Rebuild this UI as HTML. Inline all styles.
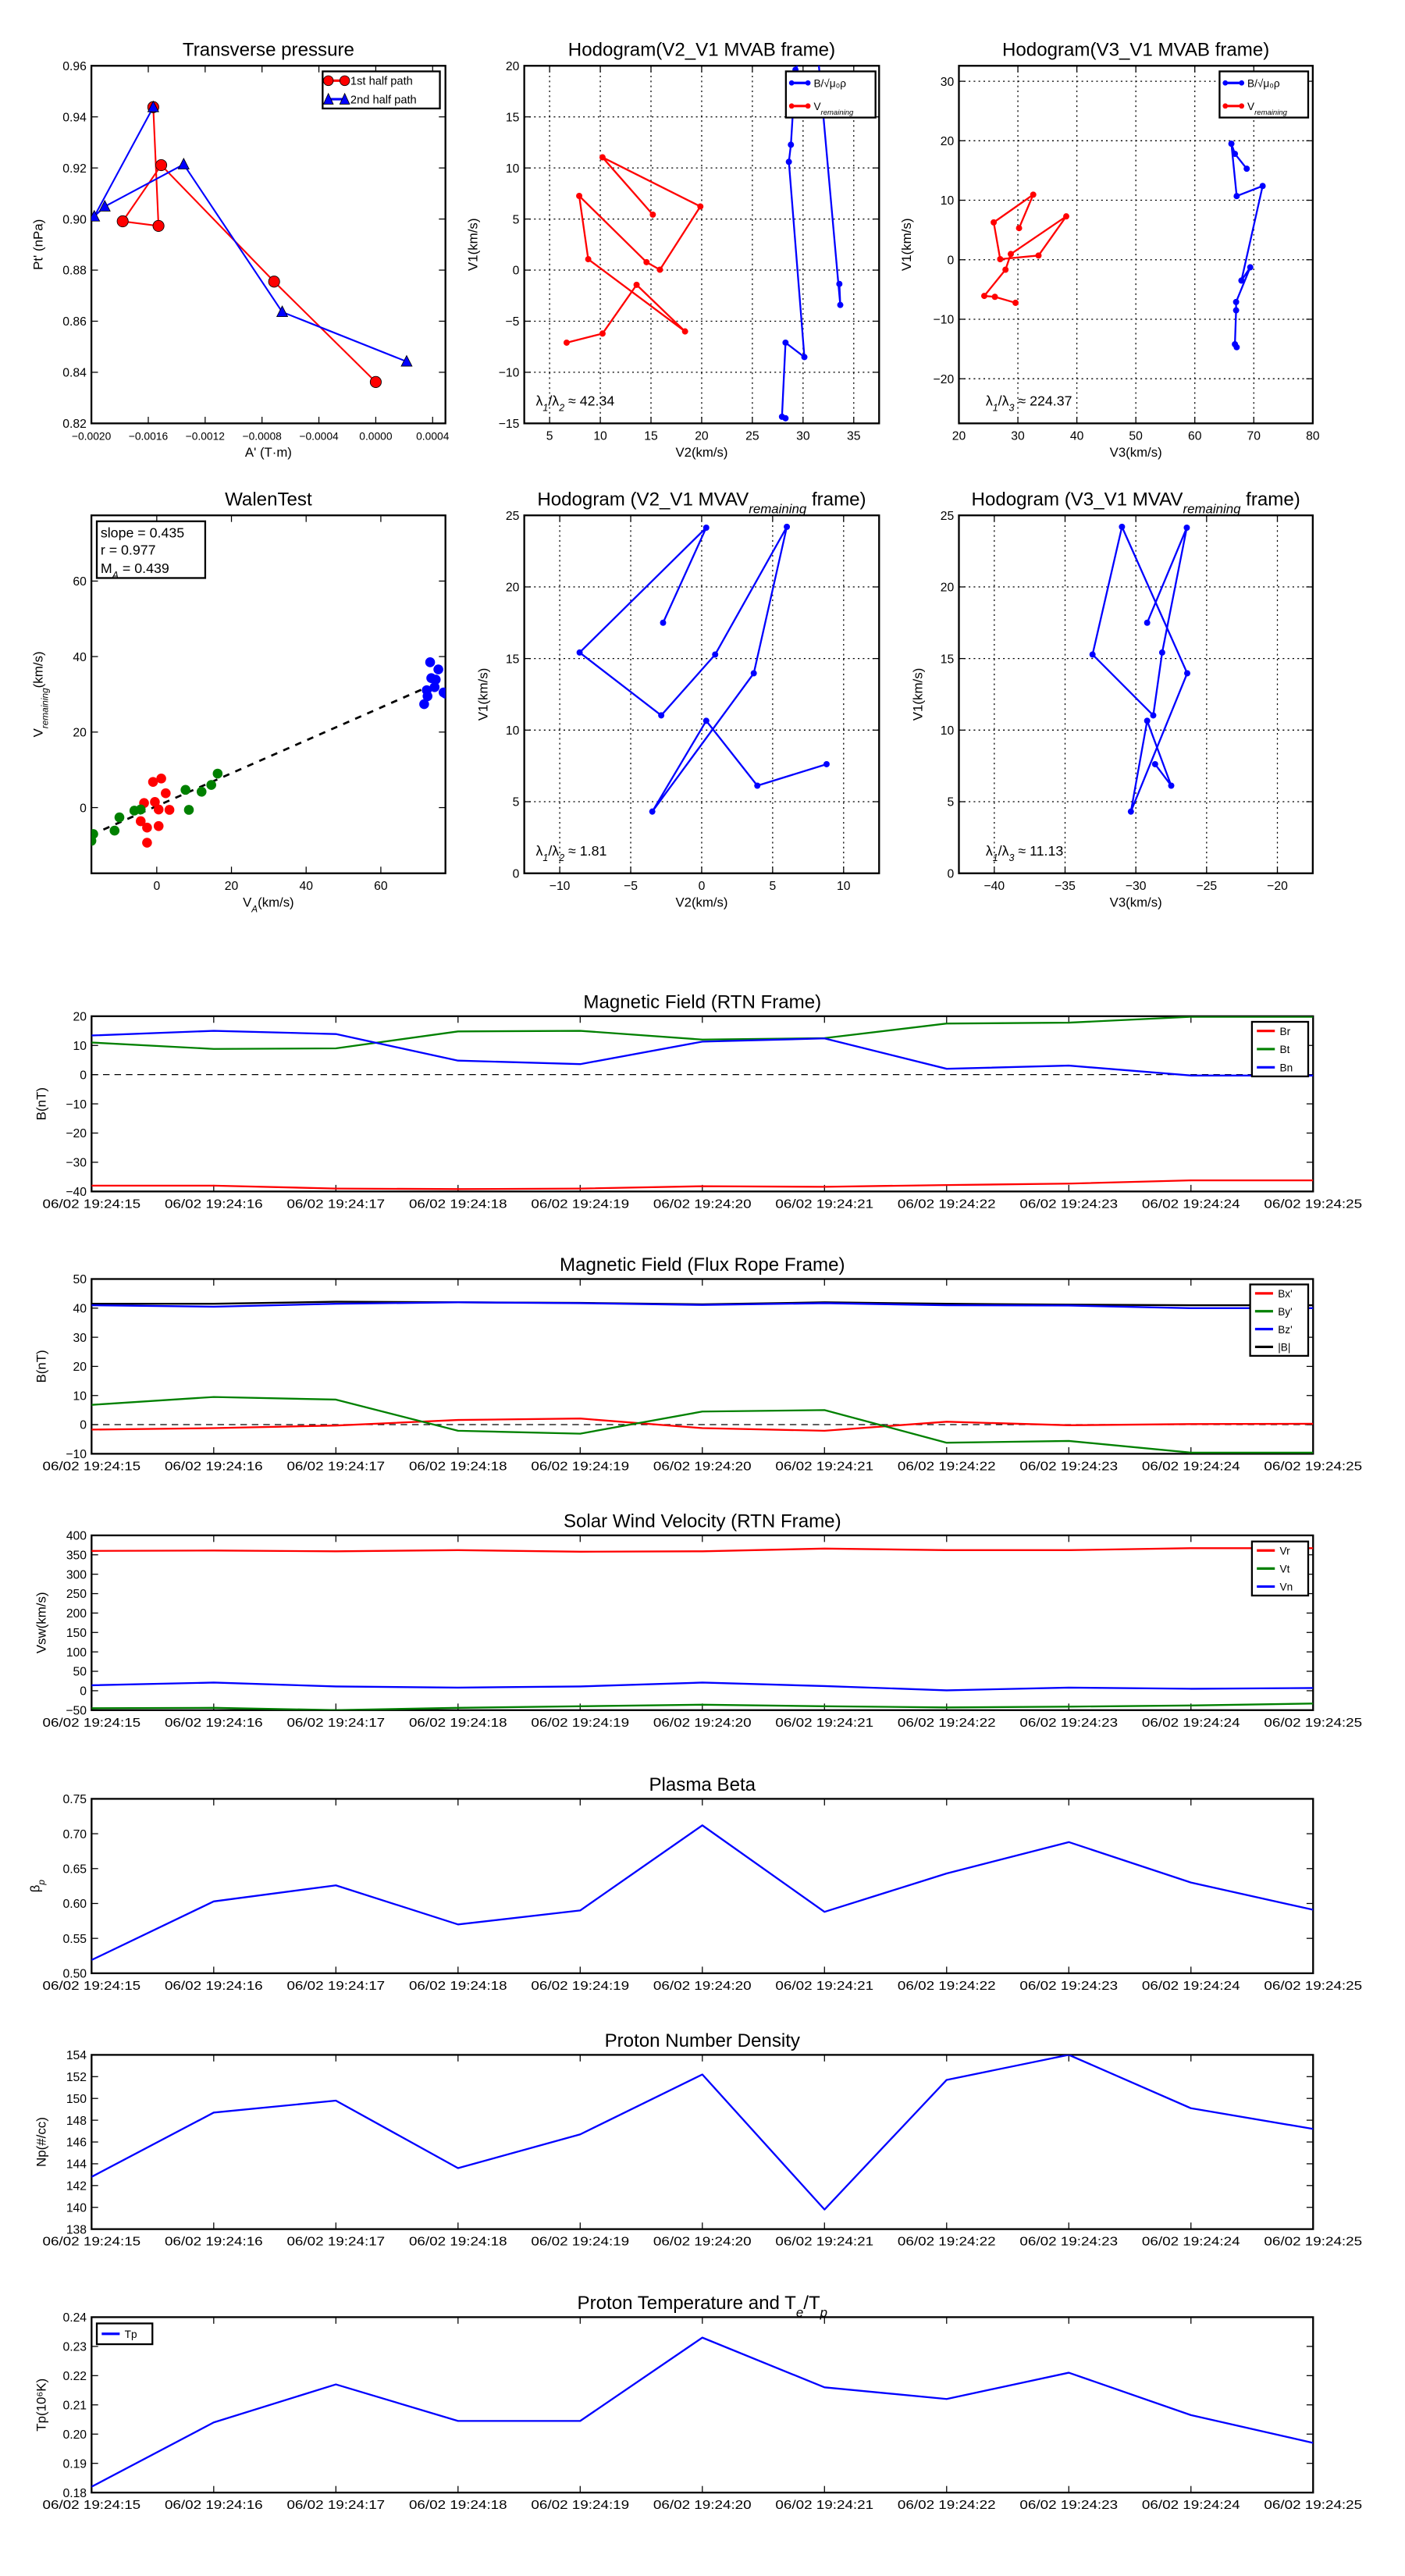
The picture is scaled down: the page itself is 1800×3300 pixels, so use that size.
<!DOCTYPE html>
<html><head><meta charset="utf-8"><title>Flux rope analysis</title>
<style>html,body{margin:0;padding:0;background:#fff}svg{display:block}text{font-family:"Liberation Sans",sans-serif}</style>
</head><body>
<svg id="fig" xmlns="http://www.w3.org/2000/svg" width="1800" height="3300" viewBox="0 0 859.2 1562.5" preserveAspectRatio="none"><rect x="0" y="0" width="900" height="1600" fill="#fff"/></svg>
<script>
// ---------- data ----------
const tpRed = [[-0.001565,0.9438],[-0.001528,0.8973],[-0.00178,0.8991],[-0.001509,0.9211],[-0.000715,0.8755],[0.0,0.8362]];
const tpBlue = [[-0.001565,0.9438],[-0.00198,0.901],[-0.001906,0.9049],[-0.001351,0.9214],[-0.000658,0.8636],[0.000217,0.8442]];
const h1Red = [[15.18,5.43],[10.22,11.04],[19.87,6.23],[15.88,0.04],[14.56,0.78],[7.92,7.26],[8.81,1.07],[18.36,-6.0],[13.58,-1.44],[10.22,-6.21],[6.68,-7.1]];
const h1Blue = [[28.27,-14.5],[27.92,-14.35],[28.27,-7.1],[30.13,-8.51],[28.6,10.6],[28.8,12.27],[29.25,19.6],[31.2,24],[33.67,-3.41],[33.58,-1.35]];
const h2Red = [[30.2,5.32],[32.6,10.94],[25.9,6.28],[27.0,0.1],[33.5,0.71],[38.2,7.29],[28.8,0.96],[27.9,-1.67],[24.3,-6.08],[26.1,-6.23],[29.6,-7.24]];
const h2Blue = [[68.8,15.3],[66.8,17.8],[66.2,19.5],[67.1,10.7],[71.5,12.4],[67.9,-3.5],[69.4,-1.27],[67.0,-7.1],[67.0,-8.5],[66.8,-14.2],[67.1,-14.7]];
const walenRed = [[-1,6.8],[1.2,7.7],[2.4,3.8],[-3.4,1.2],[-0.5,1.5],[0.5,-0.5],[3.4,-0.6],[-4.3,-3.6],[-2.6,-5.3],[0.5,-4.9],[-2.6,-9.3]];
const walenGreen = [[16.3,9.0],[14.6,6.0],[12,4.2],[7.7,4.7],[8.6,-0.6],[-4.3,-0.5],[-6,-0.8],[-10,-2.6],[-11.3,-6.1],[-17,-7],[-17.5,-8.8]];
const walenBlue = [[73.2,38.5],[75.4,36.6],[73.5,34.3],[74.7,33.9],[74.4,31.9],[72.3,31.1],[72.5,29.5],[71.6,27.4],[76.8,30.5],[77.3,30.2]];
const walenSlope = 0.435, walenIntercept = 0.4;
const mvV2 = [-2.72,0.32,-8.6,-2.85,0.95,6.0,3.67,-3.48,0.32,3.92,8.8];
const mvV3 = [-29.2,-26.4,-28.14,-28.77,-33.06,-30.98,-26.37,-30.35,-29.2,-27.5,-28.64];
const mvV1 = [17.5,24.14,15.42,11.03,15.28,24.2,13.97,4.31,10.65,6.12,7.62];
const timeLabels = ["06/02 19:24:15","06/02 19:24:16","06/02 19:24:17","06/02 19:24:18","06/02 19:24:19","06/02 19:24:20","06/02 19:24:21","06/02 19:24:22","06/02 19:24:23","06/02 19:24:24","06/02 19:24:25"];
const Br = [-38,-38,-39,-39.2,-39,-38.2,-38.4,-37.8,-37.3,-36.2,-36.2];
const Bt = [11,8.8,9,14.8,15,12,12.5,17.5,17.8,19.8,19.8];
const Bn = [13.4,15,13.9,4.8,3.6,11.3,12.4,2,3.1,-0.3,-0.3];
const Bxp = [-1.7,-1.2,-0.3,1.6,2.1,-1.2,-2.1,1,-0.2,0.2,0.3];
const Byp = [6.8,9.5,8.6,-2.1,-3.1,4.5,5,-6.2,-5.6,-9.6,-9.6];
const Bzp = [41,40.5,41.5,42,41.7,41.1,41.7,41,40.9,40,40];
const Bmag = [41.5,41.5,42.2,42,41.8,41.3,42,41.5,41.2,41,41];
const Vr = [360,361,359,362,358,359,366,362,362,367,367];
const Vt = [-45,-44,-50,-44,-40,-36,-40,-43,-41,-38,-33];
const Vn = [14,21,11,8,11,21,12,1,8,5,7];
const beta = [0.519,0.603,0.626,0.570,0.590,0.712,0.588,0.643,0.688,0.630,0.591];
const Np = [142.8,148.7,149.8,143.6,146.7,152.2,139.8,151.7,154,149.1,147.2];
const Tp = [0.182,0.204,0.217,0.2045,0.2045,0.233,0.216,0.212,0.221,0.2065,0.197];

// ---------- helpers ----------
const NS='http://www.w3.org/2000/svg';
const svg=document.getElementById('fig');
let clipId=0;
function mk(tag,attrs,parent){const e=document.createElementNS(NS,tag);for(const k in attrs)e.setAttribute(k,attrs[k]);(parent||svg).appendChild(e);return e;}
function label(parent,parts,x,y,size,anchor,rot){
  const t=mk('text',{x:x,y:y,'font-size':size,'text-anchor':anchor||'middle'},parent);
  if(rot)t.setAttribute('transform','rotate('+rot+' '+x+' '+y+')');
  parts.forEach(p=>{
    if(typeof p==='string'){t.appendChild(document.createTextNode(p));}
    else{const s=mk('tspan',{'font-size':size*0.7,'font-style':'italic','baseline-shift':'sub'},t);s.textContent=p.sub;const r=mk('tspan',{'baseline-shift':'0'},t);r.textContent='\u200b';}
  });
  return t;
}
function panel(c){
  const g=mk('g',{});
  
  
  const sx=v=>c.x0+(v-c.xmin)/(c.xmax-c.xmin)*(c.x1-c.x0);
  const sy=v=>c.y1-(v-c.ymin)/(c.ymax-c.ymin)*(c.y1-c.y0);
  const id='clip'+(clipId++);
  const cp=mk('clipPath',{id:id},g);mk('rect',{x:c.x0,y:c.y0,width:c.x1-c.x0,height:c.y1-c.y0},cp);
  const xt=c.xticks, yt=c.yticks;
  xt.forEach((v,i)=>{
    const X=sx(v);
    if(c.grid){const gl=mk('line',{x1:X,x2:X,y1:c.y0,y2:c.y1,stroke:'#000','stroke-width':0.6,'stroke-dasharray':'1,2'},g);}
    mk('line',{x1:X,x2:X,y1:c.y1,y2:c.y1-4,stroke:'#000','stroke-width':0.6},g);
    mk('line',{x1:X,x2:X,y1:c.y0,y2:c.y0+4,stroke:'#000','stroke-width':0.6},g);
    const lab=c.xlabels?c.xlabels[i]:c.xfmt(v);
    const t=mk('text',{x:X,y:c.y1+10,'font-size':c.xfs||7.5,'text-anchor':'middle'},g);
    if(c.xlen){t.setAttribute('textLength',c.xlen);t.setAttribute('lengthAdjust','spacingAndGlyphs');}
    t.textContent=lab;
    
    
  });
  yt.forEach(v=>{
    const Y=sy(v);
    if(c.grid){const gl=mk('line',{x1:c.x0,x2:c.x1,y1:Y,y2:Y,stroke:'#000','stroke-width':0.6,'stroke-dasharray':'1,2'},g);}
    mk('line',{x1:c.x0,x2:c.x0+4,y1:Y,y2:Y,stroke:'#000','stroke-width':0.6},g);
    mk('line',{x1:c.x1,x2:c.x1-4,y1:Y,y2:Y,stroke:'#000','stroke-width':0.6},g);
    const t=mk('text',{x:c.x0-3,y:Y+2.7,'font-size':7.5,'text-anchor':'end'},g);
    t.textContent=c.yfmt(v);
    
    
  });
  const fr=mk('rect',{x:c.x0,y:c.y0,width:c.x1-c.x0,height:c.y1-c.y0,fill:'none',stroke:'#000','stroke-width':1.1},g);
  
  
  const ti=label(g,c.title,(c.x0+c.x1)/2,c.y0-c.titleOff,11.5,'middle');
  
  
  if(c.xtitle){const xl=label(g,c.xtitle,(c.x0+c.x1)/2,c.xtitleY,8,'middle');}
  const yl=label(g,c.ytitle,c.ytitleX,(c.y0+c.y1)/2,8,'middle',-90);
  
  
  const dg=mk('g',{'clip-path':'url(#'+id+')'},g);
  return {g:g,dg:dg,sx:sx,sy:sy,c:c};
}
function polyline(p,pts,color,w){
  const e=mk('polyline',{points:pts.map(q=>p.sx(q[0]).toFixed(2)+','+p.sy(q[1]).toFixed(2)).join(' '),fill:'none',stroke:color,'stroke-width':w||1,'stroke-linejoin':'round'},p.dg);
  return e;
}
function dots(p,pts,color,r,nm){
  pts.forEach(q=>{
    const d=mk('circle',{cx:p.sx(q[0]),cy:p.sy(q[1]),r:r,fill:color,stroke:'none'},p.dg);
    
    
  });
}
function legend(x,y,w,h,entries,nm,fs){
  const g=mk('g',{});
  
  
  mk('rect',{x:x,y:y,width:w,height:h,fill:'#fff',stroke:'#000','stroke-width':1.1},g);
  const step=h/entries.length;
  entries.forEach((e,i)=>{
    const cy=y+step*(i+0.5);
    const it=mk('g',{},g);
    
    
    mk('line',{x1:x+3,x2:x+14,y1:cy,y2:cy,stroke:e.color,'stroke-width':1.5},it);
    if(e.marker==='o'){mk('circle',{cx:x+3.5,cy:cy,r:3,fill:e.color,stroke:'#000','stroke-width':0.4},it);mk('circle',{cx:x+13.5,cy:cy,r:3,fill:e.color,stroke:'#000','stroke-width':0.4},it);}
    if(e.marker==='^'){[x+3.5,x+13.5].forEach(mx=>mk('polygon',{points:(mx-3)+','+(cy+3)+' '+(mx+3)+','+(cy+3)+' '+mx+','+(cy-3.5),fill:e.color,stroke:'#000','stroke-width':0.4},it));}
    if(e.marker==='.'){mk('circle',{cx:x+3.5,cy:cy,r:1.6,fill:e.color},it);mk('circle',{cx:x+13.5,cy:cy,r:1.6,fill:e.color},it);}
    label(it,e.label,x+17,cy+2.5,fs||7,'start');
  });
}
const f=d=>v=>v.toFixed(d);
const fint=v=>(v<0?'\u2212':'')+Math.abs(v).toFixed(0);

// ---------- Transverse pressure ----------
const pA=panel({name:'transverse-pressure-chart',x0:55.9,x1:272.4,y0:39.9,y1:256.8,xmin:-0.002,xmax:0.00049,ymin:0.82,ymax:0.96,
  xticks:[-0.002,-0.0016,-0.0012,-0.0008,-0.0004,0,0.0004],yticks:[0.82,0.84,0.86,0.88,0.9,0.92,0.94,0.96],
  xfmt:v=>(v<-1e-9?'\u2212':'')+Math.abs(v).toFixed(4),xfs:6.6,yfmt:f(2),title:['Transverse pressure'],titleOff:6,
  xtitle:["A' (T\u00b7m)"],xtitleY:277,ytitle:["Pt' (nPa)"],ytitleX:26});
polyline(pA,tpRed,'#f00',1);
polyline(pA,tpBlue,'#00f',1);
tpRed.forEach(q=>{const d=mk('circle',{cx:pA.sx(q[0]),cy:pA.sy(q[1]),r:3.4,fill:'#f00',stroke:'#000','stroke-width':0.4},pA.dg);});
tpBlue.forEach(q=>{const X=pA.sx(q[0]),Y=pA.sy(q[1]);const d=mk('polygon',{points:(X-3.3)+','+(Y+2.8)+' '+(X+3.3)+','+(Y+2.8)+' '+X+','+(Y-3.6),fill:'#00f',stroke:'#000','stroke-width':0.4},pA.dg);});
legend(197.3,43.3,71.7,22.5,[{label:['1st half path'],color:'#f00',marker:'o'},{label:['2nd half path'],color:'#00f',marker:'^'}],'pressure-legend',7);

// ---------- Hodogram V2_V1 MVAB ----------
const pB=panel({name:'hodogram-v2-v1-mvab',x0:320.6,x1:537.6,y0:39.9,y1:256.8,xmin:2.5,xmax:37.5,ymin:-15,ymax:20,grid:true,
  xticks:[5,10,15,20,25,30,35],yticks:[-15,-10,-5,0,5,10,15,20],xfmt:fint,yfmt:fint,title:['Hodogram(V2_V1 MVAB frame)'],titleOff:6,
  xtitle:['V2(km/s)'],xtitleY:277,ytitle:['V1(km/s)'],ytitleX:292});
polyline(pB,h1Red,'#f00',1.1);dots(pB,h1Red,'#f00',1.9,'v-remaining-point');
polyline(pB,h1Blue,'#00f',1.1);dots(pB,h1Blue,'#00f',1.9,'b-alfven-point');
legend(480.6,43.3,54.8,28,[{label:['B/\u221a\u03bc\u2080\u03c1'],color:'#00f',marker:'.'},{label:['V',{sub:'remaining'}],color:'#f00',marker:'.'}],'hodogram-mvab-legend',6.5);
label(svg,['\u03bb',{sub:'1'},'/\u03bb',{sub:'2'},' \u2248 42.34'],327.7,246,8.5,'start');

// ---------- Hodogram V3_V1 MVAB ----------
const pC=panel({name:'hodogram-v3-v1-mvab',x0:586.4,x1:802.8,y0:39.9,y1:256.8,xmin:20,xmax:80,ymin:-27.5,ymax:32.6,grid:true,
  xticks:[20,30,40,50,60,70,80],yticks:[-20,-10,0,10,20,30],xfmt:fint,yfmt:fint,title:['Hodogram(V3_V1 MVAB frame)'],titleOff:6,
  xtitle:['V3(km/s)'],xtitleY:277,ytitle:['V1(km/s)'],ytitleX:557});
polyline(pC,h2Red,'#f00',1.1);dots(pC,h2Red,'#f00',1.9,'v-remaining-point');
polyline(pC,h2Blue,'#00f',1.1);dots(pC,h2Blue,'#00f',1.9,'b-alfven-point');
legend(745.8,43.3,54.2,28,[{label:['B/\u221a\u03bc\u2080\u03c1'],color:'#00f',marker:'.'},{label:['V',{sub:'remaining'}],color:'#f00',marker:'.'}],'hodogram-mvab-legend-2',6.5);
label(svg,['\u03bb',{sub:'1'},'/\u03bb',{sub:'3'},' \u2248 224.37'],602.8,246,8.5,'start');

// ---------- Walen test ----------
const pD=panel({name:'walen-test-chart',x0:55.9,x1:272.4,y0:312.6,y1:529.7,xmin:-17.5,xmax:77.3,ymin:-17.4,ymax:77.4,
  xticks:[0,20,40,60],yticks:[0,20,40,60],xfmt:fint,yfmt:fint,title:['WalenTest'],titleOff:6,
  xtitle:['V',{sub:'A'},'(km/s)'],xtitleY:550,ytitle:['V',{sub:'remaining'},'(km/s)'],ytitleX:26});
const fitL=mk('line',{x1:pD.sx(-17.5),y1:pD.sy(walenSlope*-17.5+walenIntercept),x2:pD.sx(72),y2:pD.sy(walenSlope*72+walenIntercept),stroke:'#000','stroke-width':1.3,'stroke-dasharray':'4,4'},pD.dg);


dots(pD,walenRed,'#f00',3,'walen-point-red');
dots(pD,walenGreen,'#008000',3,'walen-point-green');
dots(pD,walenBlue,'#00f',3,'walen-point-blue');
const wb=mk('g',{});


mk('rect',{x:59.2,y:316.2,width:66.3,height:34.4,fill:'#fff',stroke:'#000','stroke-width':1.1},wb);
label(wb,['slope = 0.435'],61.5,326,8.5,'start');
label(wb,['r = 0.977'],61.5,336.5,8.5,'start');
label(wb,['M',{sub:'A'},' = 0.439'],61.5,347.5,8.5,'start');

// ---------- Hodogram MVAV ----------
const mvE=mvV2.map((v,i)=>[v,mvV1[i]]);
const mvF=mvV3.map((v,i)=>[v,mvV1[i]]);
const pE=panel({name:'hodogram-v2-v1-mvav',x0:320.6,x1:537.6,y0:312.6,y1:529.7,xmin:-12.5,xmax:12.5,ymin:0,ymax:25,grid:true,
  xticks:[-10,-5,0,5,10],yticks:[0,5,10,15,20,25],xfmt:fint,yfmt:fint,title:['Hodogram (V2_V1 MVAV',{sub:'remaining'},' frame)'],titleOff:6,
  xtitle:['V2(km/s)'],xtitleY:550,ytitle:['V1(km/s)'],ytitleX:298});
polyline(pE,mvE,'#00f',1.1);dots(pE,mvE,'#00f',1.9,'hodogram-point');
label(svg,['\u03bb',{sub:'1'},'/\u03bb',{sub:'2'},' \u2248 1.81'],327.7,519,8.5,'start');
const pF=panel({name:'hodogram-v3-v1-mvav',x0:586.4,x1:802.8,y0:312.6,y1:529.7,xmin:-42.5,xmax:-17.5,ymin:0,ymax:25,grid:true,
  xticks:[-40,-35,-30,-25,-20],yticks:[0,5,10,15,20,25],xfmt:fint,yfmt:fint,title:['Hodogram (V3_V1 MVAV',{sub:'remaining'},' frame)'],titleOff:6,
  xtitle:['V3(km/s)'],xtitleY:550,ytitle:['V1(km/s)'],ytitleX:564});
polyline(pF,mvF,'#00f',1.1);dots(pF,mvF,'#00f',1.9,'hodogram-point');
label(svg,['\u03bb',{sub:'1'},'/\u03bb',{sub:'3'},' \u2248 11.13'],602.8,519,8.5,'start');

// ---------- time series ----------
const idx=timeLabels.map((_,i)=>i);
function ts(name,y0,y1,ymin,ymax,yticks,yfmt,title,ytitle,ytx){
  return panel({name:name,x0:56,x1:803,y0:y0,y1:y1,xmin:0,xmax:10,ymin:ymin,ymax:ymax,xticks:idx,xlabels:timeLabels,xlen:60,
    yticks:yticks,yfmt:yfmt,title:title,titleOff:5,ytitle:ytitle,ytitleX:ytx||28});
}
function series(p,arr,color){return polyline(p,arr.map((v,i)=>[i,v]),color,1.1);}
function zero(p){const z=mk('line',{x1:p.c.x0,x2:p.c.x1,y1:p.sy(0),y2:p.sy(0),stroke:'#000','stroke-width':0.6,'stroke-dasharray':'4,3'},p.dg);}

const p1=ts('magnetic-field-rtn-chart',616.4,722.7,-40,20,[-40,-30,-20,-10,0,10,20],fint,['Magnetic Field (RTN Frame)'],['B(nT)']);
zero(p1);series(p1,Br,'#f00');series(p1,Bt,'#008000');series(p1,Bn,'#00f');
legend(765.6,619.8,34.4,33.1,[{label:['Br'],color:'#f00'},{label:['Bt'],color:'#008000'},{label:['Bn'],color:'#00f'}],'magnetic-rtn-legend',6.5);

const p2=ts('magnetic-field-flux-rope-chart',775.8,881.8,-10,50,[-10,0,10,20,30,40,50],fint,['Magnetic Field (Flux Rope Frame)'],['B(nT)']);
zero(p2);series(p2,Bxp,'#f00');series(p2,Byp,'#008000');series(p2,Bmag,'#000');series(p2,Bzp,'#00f');
legend(764.5,779.1,35.5,43.3,[{label:["Bx'"],color:'#f00'},{label:["By'"],color:'#008000'},{label:["Bz'"],color:'#00f'},{label:['|B|'],color:'#000'}],'flux-rope-legend',6.5);

const p3=ts('solar-wind-velocity-chart',931.3,1037.3,-50,400,[-50,0,50,100,150,200,250,300,350,400],fint,['Solar Wind Velocity (RTN Frame)'],['Vsw(km/s)']);
series(p3,Vr,'#f00');series(p3,Vt,'#008000');series(p3,Vn,'#00f');
legend(765.6,935,34.4,32.8,[{label:['Vr'],color:'#f00'},{label:['Vt'],color:'#008000'},{label:['Vn'],color:'#00f'}],'velocity-legend',6.5);

const p4=ts('plasma-beta-chart',1091.1,1196.9,0.5,0.75,[0.5,0.55,0.6,0.65,0.7,0.75],f(2),['Plasma Beta'],['\u03b2',{sub:'p'}],24);
series(p4,beta,'#00f');

const p5=ts('proton-density-chart',1246.4,1352.1,138,154,[138,140,142,144,146,148,150,152,154],f(0),['Proton Number Density'],['Np(#/cc)']);
series(p5,Np,'#00f');

const p6=ts('proton-temperature-chart',1405.5,1511.9,0.18,0.24,[0.18,0.19,0.2,0.21,0.22,0.23,0.24],f(2),['Proton Temperature and T',{sub:'e'},'/T',{sub:'p'}],['Tp(10\u2076K)']);
series(p6,Tp,'#00f');
legend(59.2,1409.3,34,12.6,[{label:['Tp'],color:'#00f'}],'temperature-legend',6.5);
</script>
</body></html>
